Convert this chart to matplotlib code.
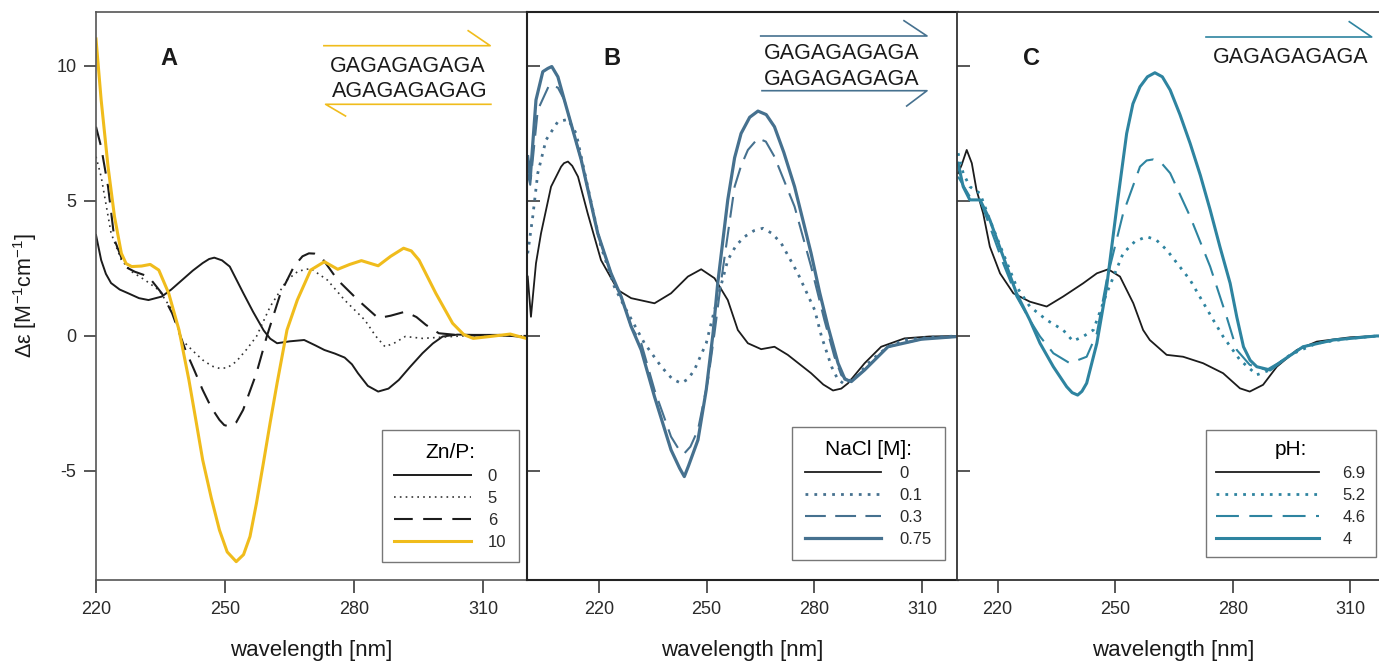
import matplotlib
matplotlib.use("Agg")
import matplotlib.pyplot as plt
from matplotlib.lines import Line2D

plt.rcParams['font.family'] = ['Liberation Sans', 'DejaVu Sans']
plt.rcParams['mathtext.default'] = 'regular'
plt.rcParams['axes.unicode_minus'] = False

W, H = 1379, 661

GOLD = '#F0BC1C'
STEEL = '#46718F'
TEAL = '#2E84A0'
INK = '#1c1c1c'

# ---- panel A: Zn/P titration ----
wl_a0 = [220, 221.2, 222.3, 223.5, 225.5, 227.5, 230.0, 232.2, 235.3, 237.5, 240.0, 242.5, 244.8, 246.3,
         247.5, 249.3, 251.1, 254.2, 256.5, 259.0, 260.5, 262.1, 265.0, 268.4, 271.0, 273.1, 275.5,
         277.8, 279.5, 280.9, 283.2, 285.6, 288.0, 290.4, 293.0, 295.9, 298.3, 300.6, 304.0, 307.7,
         313.9, 320]
a0 = [3.74, 2.81, 2.3, 1.96, 1.72, 1.58, 1.4, 1.33, 1.46, 1.72, 2.07, 2.42, 2.7, 2.85,
      2.9, 2.8, 2.57, 1.6, 0.9, 0.2, -0.1, -0.27, -0.2, -0.15, -0.35, -0.52, -0.65,
      -0.8, -1.05, -1.38, -1.85, -2.06, -1.95, -1.63, -1.15, -0.64, -0.28, -0.02, 0.05, 0.04,
      0.04, -0.05]

wl_a5 = [220, 221.2, 223.5, 225.9, 228.3, 231.4, 234.6, 237.7, 240.0, 242.5, 244.8, 247.0, 248.7, 250.5,
         252.6, 255.0, 257.3, 260.5, 264.4, 267.0, 269.9, 273.8, 277.8, 282.5, 285.0, 287.2, 289.5,
         291.9, 295.9, 305, 313, 320]
a5 = [6.64, 5.9, 3.81, 2.81, 2.38, 2.07, 1.70, 0.96, -0.15, -0.55, -0.89, -1.12, -1.2, -1.18,
      -0.95, -0.5, -0.02, 1.09, 2.07, 2.4, 2.5, 2.07, 1.33, 0.59, 0.0, -0.4, -0.25,
      -0.02, -0.09, 0.0, 0.02, 0.0]

wl_a6 = [220, 221.2, 222.8, 224.3, 226.7, 229.0, 232.2, 235.3, 237.7, 240.8, 242.8, 244.8, 246.8, 248.7,
         249.8, 251.1, 252.6, 254.2, 257.3, 259.7, 262.9, 266.0, 268.0, 269.5, 270.8, 272.3, 276.2,
         280.9, 285.6, 288.5, 291.9, 294.5, 296.7, 299.7, 305, 313, 320]
a6 = [7.75, 7.0, 5.53, 3.56, 2.57, 2.38, 2.2, 1.58, 0.84, -0.52, -1.25, -2.0, -2.65, -3.11,
      -3.3, -3.36, -3.2, -2.74, -1.38, -0.02, 1.58, 2.57, 2.95, 3.06, 3.05, 2.94, 2.07,
      1.33, 0.66, 0.75, 0.9, 0.7, 0.41, 0.1, 0.02, 0.02, 0.0]

wl_a10 = [220, 221.2, 222.8, 224.3, 225.9, 227.0, 228.3, 230.6, 232.6, 234.6, 236.9, 239.3, 241.6, 243.2,
          244.8, 246.8, 248.7, 250.5, 252.6, 254.3, 255.8, 257.3, 258.9, 260.5, 262.1, 264.4, 266.8,
          269.9, 273.1, 276.2, 279.0, 281.7, 285.6, 288.5, 291.5, 293.3, 295.1, 299.0, 302.9, 305.5,
          307.7, 311.6, 316.3, 320]
a10 = [11.0, 8.74, 6.27, 4.42, 3.06, 2.68, 2.57, 2.59, 2.65, 2.44, 1.58, 0.22, -1.63, -3.1,
       -4.59, -6.0, -7.19, -8.0, -8.36, -8.1, -7.43, -6.2, -4.72, -3.2, -1.75, 0.22, 1.33,
       2.44, 2.75, 2.47, 2.65, 2.79, 2.6, 2.95, 3.25, 3.15, 2.81, 1.58, 0.47, 0.05,
       -0.09, -0.02, 0.07, -0.09]

# ---- panel B: NaCl ----
wl_b0 = [200.2, 201.1, 202.5, 203.9, 206.7, 209.5, 210.3, 211.4, 212.6, 214.2, 216.9, 220.6, 225.3, 229.0,
         235.5, 240.1, 244.8, 248.5, 252.2, 255.9, 258.7, 261.5, 265.2, 268.9, 272.6, 279.1, 282.5,
         285.2, 287.5, 289.4, 294.0, 298.6, 305.1, 312, 320]
b0 = [2.2, 0.71, 2.69, 3.8, 5.53, 6.27, 6.4, 6.46, 6.3, 5.9, 4.54, 2.81, 1.70, 1.40,
      1.21, 1.58, 2.2, 2.47, 2.14, 1.33, 0.22, -0.27, -0.49, -0.4, -0.7, -1.38, -1.8,
      -2.02, -1.95, -1.75, -1.01, -0.4, -0.09, -0.02, 0.0]

wl_b1 = [200.2, 201.6, 203.0, 205.3, 208.6, 211.4, 213.7, 216.9, 220.6, 224.3, 227.1, 229.9, 232.7, 237.4,
         240.5, 242.9, 244.8, 246.6, 249.9, 252.2, 255.9, 258.2, 260.6, 263.2, 265.7, 268.2, 270.8,
         275.4, 280.1, 282.0, 284.8, 286.5, 288.0, 291.2, 295.9, 300.5, 305.1, 312, 320]
b1 = [3.06, 4.42, 6.03, 7.26, 7.94, 8.02, 7.5, 5.53, 3.31, 1.83, 1.09, 0.41, -0.27, -1.14,
      -1.6, -1.75, -1.6, -1.26, -0.27, 0.96, 2.81, 3.35, 3.68, 3.9, 3.99, 3.8, 3.43,
      2.32, 0.96, -0.02, -1.14, -1.6, -1.75, -1.57, -0.89, -0.4, -0.15, -0.05, 0.0]

wl_b3 = [200.2, 200.9, 203.0, 206.2, 208.6, 210.4, 215.1, 219.7, 223.4, 226.2, 229.0, 231.8, 235.5, 240.1,
         242.5, 243.8, 245.5, 247.6, 250.4, 252.2, 254.1, 257.8, 259.6, 261.5, 264.3, 266.5, 268.9,
         274.5, 279.1, 282.8, 285.6, 287.5, 289.8, 294.0, 300.5, 309.8, 320]
b3 = [6.0, 5.6, 8.37, 9.3, 9.2, 8.74, 6.52, 3.8, 2.32, 1.46, 0.35, -0.27, -2.0, -3.73,
      -4.25, -4.35, -4.1, -3.48, -1.63, 0.1, 2.07, 5.53, 6.3, 6.89, 7.32, 7.2, 6.64,
      4.79, 2.57, 0.59, -0.77, -1.45, -1.69, -1.26, -0.4, -0.12, -0.02]

wl_b75 = [200.2, 200.9, 202.5, 204.4, 205.8, 206.9, 208.6, 210.4, 215.1, 219.7, 223.4, 226.2, 229.0, 231.8,
          235.5, 240.1, 242.5, 243.8, 245.0, 247.6, 249.9, 251.8, 253.1, 255.9, 257.8, 259.6, 262.0,
          264.3, 266.6, 268.9, 271.5, 274.5, 276.8, 279.1, 281.5, 283.8, 286.6, 288.5, 290.3, 294.0,
          300.5, 309.8, 320]
b75 = [6.64, 5.84, 8.74, 9.79, 9.91, 9.98, 9.6, 8.74, 6.52, 3.8, 2.32, 1.46, 0.35, -0.52,
       -2.25, -4.22, -4.9, -5.21, -4.8, -3.85, -2.0, 0.1, 1.95, 5.04, 6.6, 7.5, 8.1,
       8.33, 8.2, 7.75, 6.8, 5.53, 4.3, 3.06, 1.6, 0.35, -1.01, -1.6, -1.69, -1.26,
       -0.4, -0.12, -0.02]

# ---- panel C: pH ----
wl_c69 = [209.9, 210.8, 212.1, 213.4, 214.6, 216.3, 218.0, 220.6, 224.0, 228.2, 232.5, 236.7, 241.8, 245.3,
          248.2, 251.2, 254.6, 257.1, 258.8, 263.1, 267.3, 272.4, 277.5, 281.8, 284.3, 287.7, 291.2,
          296.3, 301.4, 309.9, 316.7, 320]
c69 = [6.03, 6.33, 6.89, 6.4, 5.41, 4.54, 3.31, 2.32, 1.58, 1.27, 1.09, 1.46, 1.95, 2.32,
       2.47, 2.2, 1.21, 0.22, -0.15, -0.7, -0.77, -1.01, -1.38, -1.94, -2.06, -1.81, -1.14,
       -0.52, -0.21, -0.05, 0.0, 0.0]

wl_c52 = [209.9, 211.2, 212.9, 215.5, 218.0, 221.4, 224.8, 228.2, 232.5, 236.7, 239.2, 241.8, 244.4, 247.8,
          252.0, 255.0, 258.0, 260.5, 263.1, 269.1, 275.0, 277.5, 281.8, 286.1, 289.5, 294.6, 301.4,
          309.9, 316.7, 320]
c52 = [6.77, 6.03, 5.53, 5.28, 4.3, 3.06, 1.83, 1.09, 0.59, 0.22, -0.19, -0.02, 0.22, 1.58,
       3.06, 3.5, 3.68, 3.55, 3.19, 2.07, 0.59, -0.02, -0.89, -1.44, -1.26, -0.7, -0.27,
       -0.09, 0.0, 0.0]

wl_c46 = [209.9, 212.9, 215.5, 218.0, 221.4, 224.8, 228.2, 230.8, 234.2, 238.4, 242.7, 245.3, 247.8, 252.0,
          256.3, 258.0, 259.7, 261.8, 264.0, 269.1, 274.2, 278.4, 281.0, 284.3, 288.6, 292.9, 297.9,
          305.6, 316.7, 320]
c46 = [5.9, 5.16, 5.04, 4.05, 2.69, 1.46, 0.59, -0.02, -0.64, -1.01, -0.77, 0.1, 2.07, 4.54,
       6.27, 6.5, 6.54, 6.4, 6.03, 4.42, 2.57, 0.71, -0.52, -1.07, -1.26, -0.89, -0.4,
       -0.15, 0.0, 0.0]

wl_c4 = [209.9, 211.2, 212.9, 215.5, 218.0, 221.4, 224.8, 228.2, 230.8, 234.2, 237.6, 239.0, 240.4, 241.5,
         242.7, 245.3, 247.8, 250.4, 252.9, 254.5, 256.3, 258.2, 260.1, 262.0, 264.0, 266.5, 269.1,
         271.7, 274.2, 276.7, 279.3, 281.0, 282.7, 284.4, 286.1, 289.5, 292.9, 297.9, 305.6, 316.7, 320]
c4 = [6.4, 5.53, 5.04, 5.04, 4.3, 2.94, 1.58, 0.59, -0.27, -1.14, -1.88, -2.1, -2.19, -2.05,
      -1.75, -0.27, 1.83, 4.79, 7.5, 8.6, 9.23, 9.6, 9.75, 9.6, 9.11, 8.2, 7.13,
      5.95, 4.67, 3.3, 1.95, 0.7, -0.4, -0.9, -1.14, -1.26, -0.89, -0.4, -0.15, 0.0, 0.0]

xticks = [220, 250, 280, 310]
yticks = [-5, 0, 5, 10]
YLIM = (-9.04, 12.0)


def px_rect(left, right, top, bottom):
    return [left / W, 1 - bottom / H, (right - left) / W, (bottom - top) / H]


def fig_line(fig, xs, ys, color, lw=1.2):
    fig.add_artist(Line2D([x / W for x in xs], [1 - y / H for y in ys],
                          color=color, lw=lw, transform=fig.transFigure))


def style_axis(ax, first):
    ax.set_ylim(*YLIM)
    ax.set_xticks(xticks)
    ax.set_yticks(yticks)
    ax.tick_params(axis='x', direction='out', length=9, width=1.1, pad=6,
                   labelsize=13, colors='#2a2a2a')
    if first:
        ax.tick_params(axis='y', direction='out', length=9, width=1.1, pad=5,
                       labelsize=13, colors='#2a2a2a')
    else:
        ax.tick_params(axis='y', direction='in', length=9, width=1.1, labelleft=False,
                       colors='#2a2a2a')
    ax.set_xlabel('wavelength [nm]', fontsize=16, color='#1a1a1a')
    ax.xaxis.set_label_coords(0.5, -0.105)


fig = plt.figure(figsize=(W / 100, H / 100), dpi=100)

axA = fig.add_axes(px_rect(96, 527, 12, 580))
axB = fig.add_axes(px_rect(527, 958, 12, 580))
axC = fig.add_axes(px_rect(957.3, 1389.7, 12, 580))

# panel A
axA.plot(wl_a0, a0, color=INK, lw=1.4, label='0')
axA.plot(wl_a5, a5, color='#333333', lw=1.2, ls=(0, (1, 2.5)), label='5')
axA.plot(wl_a6, a6, color=INK, lw=1.5, ls=(0, (9, 5)), label='6')
axA.plot(wl_a10, a10, color=GOLD, lw=2.2, label='10')
axA.set_xlim(220, 320.2)
style_axis(axA, True)
axA.spines['right'].set_visible(False)
for s in ('top', 'left', 'bottom'):
    axA.spines[s].set_color('#555555')
    axA.spines[s].set_linewidth(1.2)
axA.set_ylabel('Δε [M$^{-1}$cm$^{-1}$]', fontsize=15.5, color='#1a1a1a')
axA.yaxis.set_label_coords(-0.132, 0.5)

# panel B
axB.plot(wl_b0, b0, color=INK, lw=1.3, label='0')
axB.plot(wl_b1, b1, color=STEEL, lw=2.0, ls=(0, (1, 2.2)), label='0.1')
axB.plot(wl_b3, b3, color=STEEL, lw=1.5, ls=(0, (10, 4.5)), label='0.3')
axB.plot(wl_b75, b75, color=STEEL, lw=2.3, label='0.75')
axB.set_xlim(200, 320)
style_axis(axB, False)
for s in axB.spines.values():
    s.set_color('#222222')
    s.set_linewidth(1.5)

# panel C
axC.plot(wl_c69, c69, color=INK, lw=1.3, label='6.9')
axC.plot(wl_c52, c52, color=TEAL, lw=2.0, ls=(0, (1, 2.2)), label='5.2')
axC.plot(wl_c46, c46, color=TEAL, lw=1.5, ls=(0, (11, 5)), label='4.6')
axC.plot(wl_c4, c4, color=TEAL, lw=2.2, label='4')
axC.set_xlim(209.7, 320)
style_axis(axC, False)
axC.spines['right'].set_visible(False)
for s in ('top', 'left', 'bottom'):
    axC.spines[s].set_color('#333333')
    axC.spines[s].set_linewidth(1.3)

# legends
for ax, title, anchor, hl, tp, bp in [(axA, 'Zn/P:', (0.981, 0.031), 4.6, 1.0, 0.75),
                                      (axB, 'NaCl [M]:', (0.970, 0.036), 4.6, 1.1, 0.78),
                                      (axC, 'pH:', (0.9676, 0.041), 6.2, 1.4, 0.6)]:
    leg = ax.legend(title=title, loc='lower right', bbox_to_anchor=anchor,
                    borderaxespad=0, fontsize=12, title_fontsize=15,
                    handlelength=hl, handletextpad=tp, labelspacing=0.42,
                    fancybox=False, frameon=True, borderpad=bp)
    leg.get_frame().set_edgecolor('#555555')
    leg.get_frame().set_linewidth(1.0)
    for t in leg.get_texts():
        t.set_color('#2a2a2a')

# panel letters
for ax, letter, x in [(axA, 'A', 0.168), (axB, 'B', 0.197), (axC, 'C', 0.172)]:
    ax.text(x, 0.918, letter, transform=ax.transAxes, fontsize=17, fontweight='bold',
            ha='center', va='center', color='#1a1a1a')

# sequences
axA.text(0.724, 0.895, 'GAGAGAGAGA', transform=axA.transAxes, fontsize=15.5,
         ha='center', va='baseline', color='#1a1a1a')
axA.text(0.728, 0.851, 'AGAGAGAGAG', transform=axA.transAxes, fontsize=15.5,
         ha='center', va='baseline', color='#1a1a1a')
axB.text(0.729, 0.917, 'GAGAGAGAGA', transform=axB.transAxes, fontsize=15.5,
         ha='center', va='baseline', color='#1a1a1a')
axB.text(0.729, 0.871, 'GAGAGAGAGA', transform=axB.transAxes, fontsize=15.5,
         ha='center', va='baseline', color='#1a1a1a')
axC.text(0.771, 0.910, 'GAGAGAGAGA', transform=axC.transAxes, fontsize=15.5,
         ha='center', va='baseline', color='#1a1a1a')

# strand arrows
fig_line(fig, [323.9, 490.2, 468.2], [45.7, 45.7, 30.7], GOLD)
fig_line(fig, [345.5, 325.6, 490.9], [116.0, 104.3, 104.3], GOLD)
fig_line(fig, [760.7, 927, 904], [36, 36, 20.7], STEEL)
fig_line(fig, [762, 927, 906.7], [90.7, 90.7, 106], STEEL)
fig_line(fig, [1206, 1371.7, 1349.3], [37, 37, 21.7], TEAL)

fig.savefig('out.png', dpi=100)
